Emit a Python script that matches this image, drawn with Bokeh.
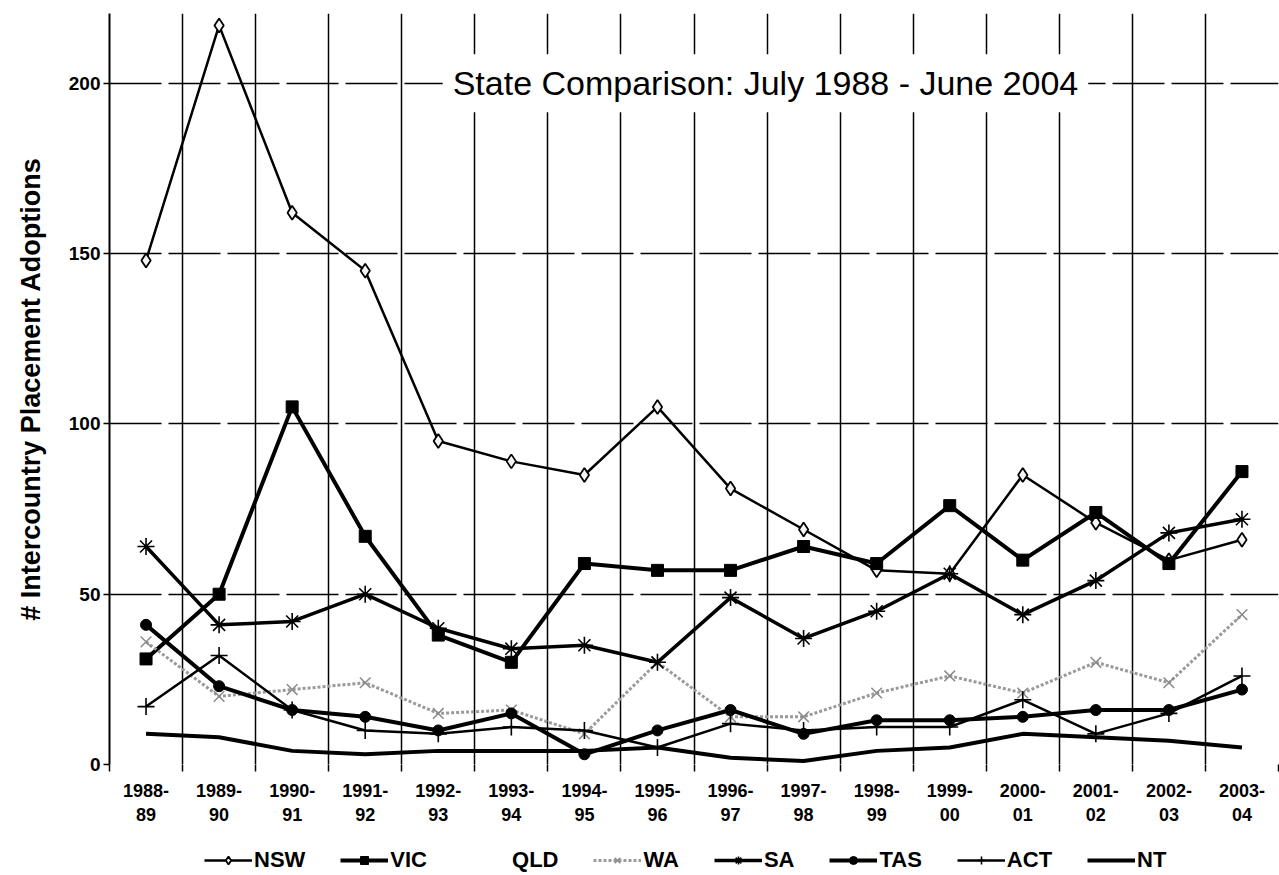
from bokeh.plotting import figure
from bokeh.layouts import column
from bokeh.models import Range1d, FixedTicker, Label, Legend, LegendItem
from bokeh.embed import file_html
from bokeh.resources import INLINE

years = ["1988-89", "1989-90", "1990-91", "1991-92", "1992-93", "1993-94",
         "1994-95", "1995-96", "1996-97", "1997-98", "1998-99", "1999-00",
         "2000-01", "2001-02", "2002-03", "2003-04"]
nsw = [148, 217, 162, 145, 95, 89, 85, 105, 81, 69, 57, 56, 85, 71, 60, 66]
vic = [31, 50, 105, 67, 38, 30, 59, 57, 57, 64, 59, 76, 60, 74, 59, 86]
wa = [36, 20, 22, 24, 15, 16, 9, 30, 14, 14, 21, 26, 21, 30, 24, 44]
sa = [64, 41, 42, 50, 40, 34, 35, 30, 49, 37, 45, 56, 44, 54, 68, 72]
tas = [41, 23, 16, 14, 10, 15, 3, 10, 16, 9, 13, 13, 14, 16, 16, 22]
act = [17, 32, 16, 10, 9, 11, 10, 5, 12, 10, 11, 11, 19, 9, 15, 26]
nt = [9, 8, 4, 3, 4, 4, 4, 5, 2, 1, 4, 5, 9, 8, 7, 5]
states = ["NSW", "VIC", "QLD", "WA", "SA", "TAS", "ACT", "NT"]
y_ticks = [0, 50, 100, 150, 200]
title_text = "State Comparison: July 1988 - June 2004"
y_title = "# Intercountry Placement Adoptions"

SANS = "'Liberation Sans', Arial, sans-serif"

n = len(years)
xs = list(range(n))
bounds = [i - 0.5 for i in range(n + 1)]

W = 1279
p = figure(width=W, height=834, output_backend="svg", toolbar_location=None,
           x_range=Range1d(-0.5, n - 0.5), y_range=Range1d(0, 220.5),
           min_border_left=109, min_border_right=1, min_border_top=13,
           min_border_bottom=70)
p.outline_line_color = None
p.background_fill_color = "white"
p.border_fill_color = "white"

# grids
p.ygrid.ticker = FixedTicker(ticks=y_ticks)
p.ygrid.grid_line_color = "black"
p.ygrid.grid_line_width = 1.6
p.ygrid.grid_line_dash = "52 7"
p.xgrid.ticker = FixedTicker(ticks=bounds)
p.xgrid.grid_line_color = "black"
p.xgrid.grid_line_width = 1.5

# y axis
p.yaxis.ticker = FixedTicker(ticks=y_ticks)
p.yaxis.axis_line_width = 2
p.yaxis.axis_line_color = "black"
p.yaxis.major_tick_out = 6
p.yaxis.major_tick_in = 0
p.yaxis.major_tick_line_width = 1.5
p.yaxis.minor_tick_line_color = None
p.yaxis.major_label_text_font = SANS
p.yaxis.major_label_text_font_style = "bold"
p.yaxis.major_label_text_font_size = "19px"
p.yaxis.major_label_text_color = "black"
p.yaxis.major_label_standoff = 3
p.yaxis.axis_label = y_title
p.yaxis.axis_label_text_font = SANS
p.yaxis.axis_label_text_font_style = "bold"
p.yaxis.axis_label_text_font_size = "27px"
p.yaxis.axis_label_text_color = "black"
p.yaxis.axis_label_standoff = 20

# x axis
p.xaxis.ticker = FixedTicker(ticks=xs, minor_ticks=bounds)
p.xaxis.axis_line_color = None
p.xaxis.major_tick_line_color = None
p.xaxis.minor_tick_out = 7
p.xaxis.minor_tick_in = 0
p.xaxis.minor_tick_line_width = 1.5
p.xaxis.minor_tick_line_color = "black"
p.xaxis.major_label_overrides = {i: y.replace("-", "-\n") for i, y in enumerate(years)}
p.xaxis.major_label_text_font = SANS
p.xaxis.major_label_text_font_style = "bold"
p.xaxis.major_label_text_font_size = "18px"
p.xaxis.major_label_text_color = "black"
p.xaxis.major_label_standoff = 9

# series styles (shared by plot and legend swatches)
line_styles = {
    "NSW": dict(line_color="black", line_width=2.5),
    "VIC": dict(line_color="black", line_width=4),
    "QLD": dict(line_color="white", line_width=3),
    "WA": dict(line_color="#9a9a9a", line_width=3, line_dash="3 2"),
    "SA": dict(line_color="black", line_width=3.5),
    "TAS": dict(line_color="black", line_width=4),
    "ACT": dict(line_color="black", line_width=2.5),
    "NT": dict(line_color="black", line_width=4),
}
marker_styles = {
    "NSW": dict(marker="diamond", size=14, fill_color="#f4f4f4", line_color="black", line_width=1.8),
    "VIC": dict(marker="square", size=12, fill_color="black", line_color="black"),
    "WA": dict(marker="x", size=15, line_color="#8a8a8a", line_width=1.5),
    "SA": dict(marker="asterisk", size=17, line_color="black", line_width=1.6),
    "TAS": dict(marker="circle", size=11, fill_color="black", line_color="black"),
    "ACT": dict(marker="cross", size=17, line_color="black", line_width=1.6),
}
series = {"NSW": nsw, "VIC": vic, "WA": wa, "SA": sa, "TAS": tas, "ACT": act, "NT": nt}

for s in states:
    if s in series:
        p.line(xs, series[s], **line_styles[s])
        if s in marker_styles:
            p.scatter(xs, series[s], **marker_styles[s])

# title inside plot area
p.add_layout(Label(x=4.06, y=200, text=title_text, text_align="left",
                   text_baseline="middle", text_font=SANS,
                   text_font_size="34px", text_color="black",
                   background_fill_color="white", padding=10))

# legend strip below the chart (swatch renderers use the series data, kept
# outside this strip's visible y range so only the legend swatches show)
lf = figure(width=W, height=41, output_backend="svg", toolbar_location=None,
            x_axis_type=None, y_axis_type=None, min_border=0,
            x_range=Range1d(-0.5, n - 0.5), y_range=Range1d(-30, -20))
lf.outline_line_color = None
lf.xgrid.visible = False
lf.ygrid.visible = False
items = []
for s in states:
    data = series.get(s)
    if data is None:
        rs = [lf.line([], [], **line_styles[s])]
    else:
        rs = [lf.line(xs, data, **line_styles[s])]
        if s in marker_styles:
            rs.append(lf.scatter(xs, data, **marker_styles[s]))
    items.append(LegendItem(label=s, renderers=rs))
legend = Legend(items=items, orientation="horizontal", location=(95, 2))
legend.label_text_font = SANS
legend.label_text_font_style = "bold"
legend.label_text_font_size = "22px"
legend.label_text_color = "black"
legend.glyph_width = 48
legend.glyph_height = 20
legend.label_standoff = 2
legend.label_height = 20
legend.spacing = 35
legend.padding = 0
legend.margin = 0
legend.border_line_color = None
legend.background_fill_alpha = 0
lf.add_layout(legend)

open("out.html", "w").write(file_html(column(p, lf, spacing=0), INLINE))
